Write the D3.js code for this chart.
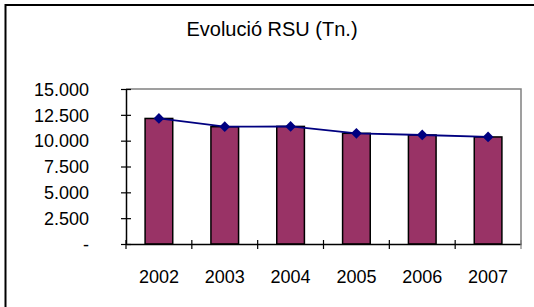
<!DOCTYPE html>
<html>
<head>
<meta charset="utf-8">
<script src="https://cdn.jsdelivr.net/npm/d3@7"></script>
<style>
  html, body { margin: 0; padding: 0; background: #fff; }
  svg { display: block; }
  text { font-family: "Liberation Sans", Arial, sans-serif; fill: #000; }
</style>
</head>
<body>
<svg id="chart" width="534" height="307"></svg>
<script>
const years = ['2002', '2003', '2004', '2005', '2006', '2007'];
const rsuValues = [12150, 11350, 11380, 10710, 10550, 10360];
const yTicks = [0, 2500, 5000, 7500, 10000, 12500, 15000];
const titleText = 'Evolució RSU (Tn.)';

const svg = d3.select('#chart');
const plot = { left: 126, right: 521, top: 89, bottom: 244 };

// outer frame (only top and left visible in the picture)
svg.append('rect')
  .attr('x', 5.5).attr('y', 5)
  .attr('width', 560).attr('height', 340)
  .attr('fill', 'none')
  .attr('stroke', '#000')
  .attr('stroke-width', 2);

svg.append('text')
  .attr('x', 272).attr('y', 36)
  .attr('text-anchor', 'middle')
  .style('font-size', '20px')
  .text(titleText);

const x = d3.scaleBand()
  .domain(years)
  .range([plot.left, plot.right])
  .paddingInner(0.58)
  .paddingOuter(0.29);

const xEdges = d3.scaleBand()
  .domain(years)
  .range([plot.left, plot.right])
  .padding(0);

const y = d3.scaleLinear()
  .domain([0, 15000])
  .range([plot.bottom, plot.top]);

// plot area border: top and right in gray
svg.append('path')
  .attr('d', `M${plot.left},${y(15000)}H${plot.right}V${plot.bottom}`)
  .attr('fill', 'none')
  .attr('stroke', '#808080')
  .attr('stroke-width', 1.5);

// bars
svg.append('g')
  .selectAll('rect')
  .data(rsuValues)
  .join('rect')
  .attr('x', (d, i) => x(years[i]))
  .attr('y', d => y(d))
  .attr('width', x.bandwidth())
  .attr('height', d => y(0) - y(d))
  .attr('fill', '#993366')
  .attr('stroke', '#000')
  .attr('stroke-width', 1.5);

// y axis
const fmt = d => d === 0 ? '-' : d3.format(',')(d).replace(/,/g, '.');
const yAxis = svg.append('g')
  .attr('transform', `translate(${plot.left},0)`)
  .call(d3.axisLeft(y).tickValues(yTicks).tickSize(5).tickFormat(fmt).tickSizeOuter(0));
yAxis.select('.domain').attr('stroke', '#000').attr('stroke-width', 1.5);
yAxis.selectAll('.tick line').attr('x2', 5).attr('x1', -5).attr('stroke', '#000').attr('stroke-width', 1.2);
yAxis.selectAll('.tick text')
  .attr('x', -37)
  .attr('dy', '0.35em')
  .style('font-size', '18px')
  .style('font-family', '"Liberation Sans", Arial, sans-serif');

// x axis
const xAxis = svg.append('g')
  .attr('transform', `translate(0,${plot.bottom})`)
  .call(d3.axisBottom(xEdges).tickSize(0).tickSizeOuter(0));
xAxis.select('.domain').attr('stroke', '#000').attr('stroke-width', 1.5);
xAxis.selectAll('.tick text')
  .attr('y', 26)
  .attr('dy', '0.71em')
  .style('font-size', '18px')
  .style('font-family', '"Liberation Sans", Arial, sans-serif');

// x tick marks at category edges
const edges = years.map(yr => xEdges(yr)).concat([plot.right]);
svg.append('g')
  .selectAll('line')
  .data(edges)
  .join('line')
  .attr('x1', d => d).attr('x2', d => d)
  .attr('y1', plot.bottom - 4).attr('y2', plot.bottom + 5)
  .attr('stroke', (d, i) => i === edges.length - 1 ? '#808080' : '#000')
  .attr('stroke-width', 1.2);

// line series
const line = d3.line()
  .x((d, i) => x(years[i]) + x.bandwidth() / 2)
  .y(d => y(d));

svg.append('path')
  .datum(rsuValues)
  .attr('d', line)
  .attr('fill', 'none')
  .attr('stroke', '#000080')
  .attr('stroke-width', 1.8);

svg.append('g')
  .selectAll('path')
  .data(rsuValues)
  .join('path')
  .attr('d', d3.symbol().type(d3.symbolSquare).size(58))
  .attr('transform', (d, i) => `translate(${x(years[i]) + x.bandwidth() / 2},${y(d)}) rotate(45)`)
  .attr('fill', '#000080');
</script>
</body>
</html>
